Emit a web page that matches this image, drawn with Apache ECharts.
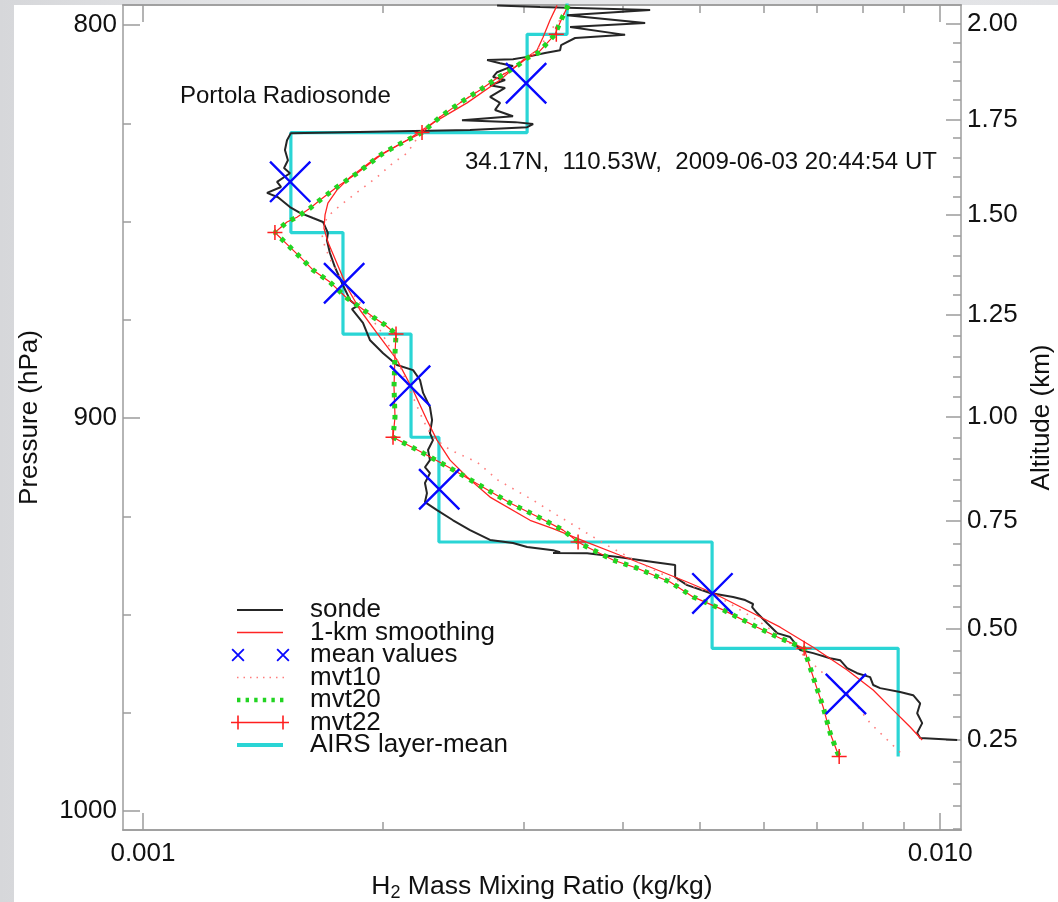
<!DOCTYPE html>
<html>
<head>
<meta charset="utf-8">
<script src="https://cdn.jsdelivr.net/npm/echarts@6.0.0/dist/echarts.min.js"></script>
<style>
html, body { margin: 0; padding: 0; width: 1058px; height: 902px; overflow: hidden;
  background: linear-gradient(90deg, #d6d7da, #e8e9eb 30%, #e2e3e6); }
#panel { position: absolute; left: 14px; top: 5px; width: 1044px; height: 897px; background: #fff; }
#chart { position: absolute; left: 0; top: 0; width: 1058px; height: 902px; }
</style>
</head>
<body>
<div id="panel"></div>
<div id="chart"></div>
<script>
var FONT = 'Liberation Sans, Arial, Helvetica, sans-serif';
var AXIS_GRAY = '#9c9c9c';

// radiosonde profile (pressure hPa, mixing ratio kg/kg)
var sondeHpa = [795.0, 795.4, 796.2, 797.5, 799.5, 800.5, 802.5, 803.3, 805.1, 806.4, 807.1, 808.1, 808.7, 808.9,
  809.7, 810.4, 812.0, 813.2, 814.0, 815.3, 816.0, 818.3, 819.8, 821.6, 823.2, 824.2, 824.7, 825.2, 826.0, 826.7,
  827.0, 827.5, 829.3, 831.8, 834.4, 836.4, 837.7, 839.9, 841.2, 842.7, 843.8, 846.3, 847.8, 849.1, 850.1, 852.9,
  854.7, 858.0, 861.6, 866.2, 870.0, 871.5, 872.3, 875.8, 880.2, 883.5, 886.5, 887.8, 890.3, 893.6, 897.2, 900.5,
  903.8, 905.6, 908.1, 910.7, 912.5, 914.0, 916.5, 919.1, 921.4, 923.4, 926.0, 928.5, 931.0, 931.8, 932.8, 933.6,
  934.1, 934.3, 934.4, 935.4, 936.6, 937.4, 940.5, 942.5, 944.5, 945.5, 946.3, 947.3, 948.1, 949.6, 952.2, 954.7,
  955.7, 957.3, 959.0, 959.8, 961.1, 961.6, 963.6, 964.9, 965.9, 967.9, 968.7, 969.7, 970.5, 972.6, 975.1, 977.6,
  980.1, 981.4, 981.9];
var sondeMr = [2.781e-3, 3.149e-3, 4.327e-3, 3.404e-3, 4.265e-3, 3.434e-3, 4.025e-3, 3.484e-3, 3.346e-3, 3.336e-3,
  3.194e-3, 3.033e-3, 2.912e-3, 2.702e-3, 2.805e-3, 2.912e-3, 2.781e-3, 2.749e-3, 2.846e-3, 2.725e-3, 2.846e-3,
  2.725e-3, 2.805e-3, 2.765e-3, 2.912e-3, 2.513e-3, 2.929e-3, 3.086e-3, 3.033e-3, 2.572e-3, 2.101e-3, 1.533e-3,
  1.516e-3, 1.507e-3, 1.520e-3, 1.503e-3, 1.529e-3, 1.473e-3, 1.490e-3, 1.431e-3, 1.477e-3, 1.529e-3, 1.574e-3,
  1.634e-3, 1.682e-3, 1.706e-3, 1.701e-3, 1.716e-3, 1.741e-3, 1.782e-3, 1.819e-3, 1.856e-3, 1.829e-3, 1.888e-3,
  1.927e-3, 2.001e-3, 2.083e-3, 2.182e-3, 2.226e-3, 2.246e-3, 2.291e-3, 2.305e-3, 2.291e-3, 2.311e-3, 2.278e-3,
  2.291e-3, 2.258e-3, 2.291e-3, 2.258e-3, 2.271e-3, 2.258e-3, 2.338e-3, 2.449e-3, 2.572e-3, 2.725e-3, 2.912e-3,
  3.033e-3, 3.269e-3, 3.336e-3, 3.269e-3, 3.607e-3, 3.967e-3, 4.364e-3, 4.651e-3, 4.651e-3, 4.815e-3, 5.145e-3,
  5.499e-3, 5.693e-3, 5.826e-3, 5.809e-3, 5.894e-3, 6.067e-3, 6.244e-3, 6.484e-3, 6.578e-3, 6.673e-3, 6.929e-3,
  7.277e-3, 7.491e-3, 7.644e-3, 7.868e-3, 8.169e-3, 8.240e-3, 8.408e-3, 8.908e-3, 9.250e-3, 9.438e-3, 9.357e-3,
  9.494e-3, 9.357e-3, 9.438e-3, 10.503e-3];

// 1-km smoothing
var smoothHpa = [795.0, 798.7, 803.1, 806.4, 808.9, 814.0, 819.8, 824.9, 829.3, 833.6, 838.7, 842.0, 845.3, 848.3,
  851.7, 855.2, 860.6, 866.7, 872.5, 878.4, 885.2, 892.9, 900.5, 905.6, 910.7, 915.0, 920.1, 926.0, 928.1, 931.6,
  934.9, 938.2, 941.7, 944.5, 948.9, 953.2, 958.3, 964.1, 969.2, 974.3, 978.6, 981.9];
var smoothMr = [3.307e-3, 3.241e-3, 3.176e-3, 3.121e-3, 2.998e-3, 2.805e-3, 2.550e-3, 2.311e-3, 2.144e-3, 1.966e-3,
  1.819e-3, 1.751e-3, 1.706e-3, 1.692e-3, 1.687e-3, 1.706e-3, 1.751e-3, 1.803e-3, 1.872e-3, 1.966e-3, 2.083e-3,
  2.182e-3, 2.271e-3, 2.338e-3, 2.428e-3, 2.550e-3, 2.725e-3, 3.059e-3, 3.269e-3, 3.607e-3, 3.967e-3, 4.364e-3,
  4.815e-3, 5.190e-3, 5.726e-3, 6.299e-3, 6.929e-3, 7.644e-3, 8.240e-3, 8.731e-3, 9.170e-3, 9.494e-3];

// mean values in each AIRS layer (blue crosses)
var meanHpa = [814.8, 839.9, 865.7, 891.8, 918.1, 944.6, 970.2];
var meanMr = [3.024e-3, 1.530e-3, 1.788e-3, 2.163e-3, 2.353e-3, 5.180e-3, 7.616e-3];

// mvt10
var mvt10Hpa = [795.0, 798.2, 800.8, 805.6, 808.4, 813.5, 819.8, 823.4, 827.0, 832.6, 835.1, 838.7, 842.0, 844.5,
  846.6, 848.9, 853.4, 856.5, 860.6, 865.6, 870.7, 877.6, 885.2, 892.9, 900.5, 904.8, 908.1, 911.2, 915.8, 920.9,
  924.7, 929.3, 932.8, 936.9, 940.7, 944.5, 951.4, 957.3, 964.9, 970.0, 977.6, 985.8];
var mvt10Mr = [3.414e-3, 3.355e-3, 3.260e-3, 3.149e-3, 3.033e-3, 2.781e-3, 2.499e-3, 2.358e-3, 2.239e-3, 2.144e-3,
  2.059e-3, 1.966e-3, 1.872e-3, 1.803e-3, 1.751e-3, 1.701e-3, 1.677e-3, 1.692e-3, 1.726e-3, 1.787e-3, 1.872e-3,
  1.983e-3, 2.083e-3, 2.163e-3, 2.246e-3, 2.305e-3, 2.428e-3, 2.625e-3, 2.789e-3, 3.086e-3, 3.307e-3, 3.607e-3,
  3.854e-3, 4.203e-3, 4.584e-3, 5.175e-3, 5.894e-3, 6.484e-3, 7.132e-3, 7.644e-3, 8.169e-3, 8.986e-3];

// mvt22 (mvt20 lies on top of it, same trace)
var mvt22Hpa = [795.0, 798.2, 800.5, 802.37, 804.6, 807.1, 808.4, 810.2, 812.0, 813.5, 816.5, 819.8, 823.4, 827.37,
  829.8, 832.6, 837.7, 841.2, 844.5, 846.6, 848.9, 850.1, 852.79, 856.5, 859.0, 862.3, 865.4, 869.5, 871.8, 874.3,
  876.3, 878.62, 883.5, 892.1, 899.7, 904.87, 908.9, 912.7, 917.6, 921.6, 925.4, 928.5, 931.53, 932.8, 936.1, 938.2,
  941.7, 945.5, 948.8, 953.2, 956.0, 958.59, 961.1, 967.4, 973.5, 980.1, 984.9, 986.07];
var mvt22Mr = [3.414e-3, 3.355e-3, 3.317e-3, 3.288e-3, 3.213e-3, 3.131e-3, 3.033e-3, 2.955e-3, 2.862e-3, 2.781e-3,
  2.648e-3, 2.499e-3, 2.358e-3, 2.239e-3, 2.120e-3, 2.001e-3, 1.856e-3, 1.751e-3, 1.668e-3, 1.620e-3, 1.560e-3,
  1.516e-3, 1.464e-3, 1.529e-3, 1.574e-3, 1.634e-3, 1.716e-3, 1.803e-3, 1.872e-3, 1.944e-3, 2.012e-3, 2.077e-3,
  2.071e-3, 2.065e-3, 2.071e-3, 2.059e-3, 2.246e-3, 2.428e-3, 2.671e-3, 2.887e-3, 3.149e-3, 3.365e-3, 3.514e-3,
  3.607e-3, 3.888e-3, 4.167e-3, 4.584e-3, 4.899e-3, 5.343e-3, 5.894e-3, 6.299e-3, 6.751e-3, 6.809e-3, 6.969e-3,
  7.132e-3, 7.277e-3, 7.426e-3, 7.470e-3];
var mvt20Hpa = mvt22Hpa;
var mvt20Mr = mvt22Mr;
var mvt22NodeHpa = [802.37, 827.37, 852.79, 878.62, 904.87, 931.53, 958.59, 986.07];
var mvt22NodeMr = [3.30e-3, 2.239e-3, 1.464e-3, 2.077e-3, 2.059e-3, 3.514e-3, 6.751e-3, 7.470e-3];

// AIRS layer-mean: layer boundaries and one value per layer
var airsLevels = [777.79, 802.37, 827.37, 852.79, 878.62, 904.87, 931.53, 958.59, 986.07];
var airsMr = [3.404e-3, 3.033e-3, 1.533e-3, 1.782e-3, 2.169e-3, 2.351e-3, 5.175e-3, 8.857e-3];

// axis ticks
var pressLabels = [800, 900, 1000];
var pressMinor = [825, 850, 875, 925, 950, 975];
var mrLabels = [0.001, 0.01];
var mrMinor = [0.002, 0.003, 0.004, 0.005, 0.006, 0.007, 0.008, 0.009];
var altMajorKm = [2.00, 1.75, 1.50, 1.25, 1.00, 0.75, 0.50, 0.25];
var altMajorHpa = [799.6, 824.0, 848.2, 873.8, 899.7, 926.1, 953.5, 981.8];
var altMinorHpa = [804.5, 809.3, 814.2, 819.1, 828.7, 833.7, 838.6, 843.7, 853.7, 858.8, 863.9, 868.7,
  879.1, 884.4, 889.5, 894.6, 905.0, 910.4, 915.8, 921.1, 931.9, 937.2, 942.6, 948.0,
  959.3, 964.8, 970.3, 976.0, 987.5, 993.0, 998.7, 1004.6];

var P_MIN = 794.9, P_MAX = 1004.8;
var MR_MIN = 0.000944, MR_MAX = 0.01062;

var C_SONDE = '#262626', C_SMOOTH = '#ff2424', C_MEAN = '#0808ff', C_MVT10 = '#ff7d7d',
    C_MVT20 = '#22d422', C_MVT22 = '#ff1e1e', C_AIRS = '#2ad5d5';

function pairs(mr, hpa) {
    var out = [];
    for (var i = 0; i < mr.length; i++) {
        out.push([mr[i], hpa[i]]);
    }
    return out;
}

function airsSteps() {
    var out = [];
    for (var i = 0; i < airsMr.length; i++) {
        out.push([airsMr[i], airsLevels[i]]);
        out.push([airsMr[i], airsLevels[i + 1]]);
    }
    return out;
}

function mrAxis(position, ticks, tickLen, withLabels) {
    var ax = {
        type: 'log', logBase: 10, position: position, min: MR_MIN, max: MR_MAX,
        axisLine: { show: withLabels !== null, lineStyle: { color: AXIS_GRAY, width: 1.5 } },
        axisTick: { inside: true, length: tickLen, customValues: ticks, lineStyle: { color: AXIS_GRAY, width: 1.5 } },
        axisLabel: { show: false },
        splitLine: { show: false }
    };
    if (withLabels) {
        ax.axisLabel = {
            show: true, customValues: mrLabels, margin: 11, fontSize: 26, color: '#111', fontFamily: FONT,
            formatter: function (v) { return v.toFixed(3); }
        };
    }
    return ax;
}

function pressAxis(position, ticks, tickLen, showLine) {
    return {
        type: 'value', position: position, min: P_MIN, max: P_MAX, inverse: true,
        axisLine: { show: showLine, onZero: false, lineStyle: { color: AXIS_GRAY, width: 1.5 } },
        axisTick: { inside: true, length: tickLen, customValues: ticks, lineStyle: { color: AXIS_GRAY, width: 1.5 } },
        axisLabel: { show: false },
        splitLine: { show: false }
    };
}

var xBottom = mrAxis('bottom', mrLabels, 17, true);
xBottom.name = 'H{sub|2} Mass Mixing Ratio (kg/kg)';
xBottom.nameLocation = 'middle';
xBottom.nameGap = 34;
xBottom.nameTextStyle = {
    fontSize: 26.5, color: '#111', fontFamily: FONT, lineHeight: 30,
    rich: { sub: { fontSize: 18, lineHeight: 15, verticalAlign: 'bottom', color: '#111', fontFamily: FONT } }
};

var yLeft = pressAxis('left', pressLabels, 17, true);
yLeft.axisLabel = {
    show: true, customValues: pressLabels, margin: 6, fontSize: 26, color: '#111', fontFamily: FONT,
    formatter: function (v) { return String(v); }
};
yLeft.name = 'Pressure (hPa)';
yLeft.nameLocation = 'middle';
yLeft.nameRotate = 90;
yLeft.nameGap = 80;
yLeft.nameTextStyle = { fontSize: 26, color: '#111', fontFamily: FONT };

var yRight = pressAxis('right', altMajorHpa, 15, true);
yRight.axisLabel = {
    show: true, customValues: altMajorHpa, margin: 6, fontSize: 26, color: '#111', fontFamily: FONT,
    formatter: function (v) {
        for (var i = 0; i < altMajorHpa.length; i++) {
            if (Math.abs(altMajorHpa[i] - v) < 0.01) return altMajorKm[i].toFixed(2);
        }
        return '';
    }
};
yRight.name = 'Altitude (km)';
yRight.nameLocation = 'middle';
yRight.nameRotate = 90;
yRight.nameGap = 59;
yRight.nameTextStyle = { fontSize: 26, color: '#111', fontFamily: FONT };

// legend icons drawn in a 62x14 box (the leading moves pin the box size)
var BOX = 'path://M0,0M62,14';
var icons = {
    sonde: BOX + 'M9,5.9H55V8.1H9Z',
    smooth: BOX + 'M9,6.3H55V7.7H9Z',
    mean: BOX + 'M3.5,1.8L4.8,0.5L16.5,12.2L15.2,13.5ZM15.2,0.5L16.5,1.8L4.8,13.5L3.5,12.2Z' +
        'M48.5,1.8L49.8,0.5L61.5,12.2L60.2,13.5ZM60.2,0.5L61.5,1.8L49.8,13.5L48.5,12.2Z',
    mvt10: BOX + 'M9,6.25h1.5v1.5h-1.5ZM15.5,6.25h1.5v1.5h-1.5ZM22,6.25h1.5v1.5h-1.5ZM28.5,6.25h1.5v1.5h-1.5Z' +
        'M35,6.25h1.5v1.5h-1.5ZM41.5,6.25h1.5v1.5h-1.5ZM48,6.25h1.5v1.5h-1.5ZM54.5,6.25h1.5v1.5h-1.5Z',
    mvt20: BOX + 'M9,4.8h3.4v4.4h-3.4ZM17.6,4.8h3.4v4.4h-3.4ZM26.2,4.8h3.4v4.4h-3.4ZM34.8,4.8h3.4v4.4h-3.4Z' +
        'M43.4,4.8h3.4v4.4h-3.4ZM52,4.8h3.4v4.4h-3.4Z',
    mvt22: BOX + 'M3,6.2H61V7.8H3ZM9.2,0H10.8V14H9.2ZM54.2,0H55.8V14H54.2Z',
    airs: BOX + 'M9,5.1H55V8.9H9Z'
};

var CROSS = 'path://M0,1.6L1.6,0L40,38.4L38.4,40ZM38.4,0L40,1.6L1.6,40L0,38.4Z';
var PLUS = 'path://M7.2,0H8.8V16H7.2ZM0,7.2H16V8.8H0Z';

var chart = echarts.init(document.getElementById('chart'), null, { renderer: 'canvas' });

var option = {
    animation: false,
    backgroundColor: 'transparent',
    textStyle: { fontFamily: FONT },
    title: [
        { text: 'Portola Radiosonde', left: 180, top: 84, padding: 0,
          textStyle: { fontSize: 24, fontWeight: 'normal', color: '#111', fontFamily: FONT } },
        { text: '34.17N,  110.53W,  2009-06-03 20:44:54 UT', left: 465, top: 150, padding: 0,
          textStyle: { fontSize: 24, fontWeight: 'normal', color: '#111', fontFamily: FONT } }
    ],
    legend: {
        orient: 'vertical', left: 228, top: 597, padding: 0,
        itemWidth: 62, itemHeight: 14, itemGap: -3.5, selectedMode: false, symbolKeepAspect: true,
        itemStyle: { borderWidth: 0 },
        textStyle: { fontSize: 26, color: '#111', fontFamily: FONT, padding: [0, 0, 0, 15] },
        data: [
            { name: 'sonde', icon: icons.sonde, itemStyle: { color: C_SONDE, borderWidth: 0 } },
            { name: '1-km smoothing', icon: icons.smooth, itemStyle: { color: C_SMOOTH, borderWidth: 0 } },
            { name: 'mean values', icon: icons.mean, itemStyle: { color: C_MEAN, borderWidth: 0 } },
            { name: 'mvt10', icon: icons.mvt10, itemStyle: { color: C_MVT10, borderWidth: 0 } },
            { name: 'mvt20', icon: icons.mvt20, itemStyle: { color: C_MVT20, borderWidth: 0 } },
            { name: 'mvt22', icon: icons.mvt22, itemStyle: { color: C_MVT22, borderWidth: 0 } },
            { name: 'AIRS layer-mean', icon: icons.airs, itemStyle: { color: C_AIRS, borderWidth: 0 } }
        ]
    },
    grid: { left: 123, top: 5, width: 838, height: 825, containLabel: false, outerBoundsMode: 'none' },
    xAxis: [
        xBottom,
        mrAxis('bottom', mrMinor, 8, false),
        mrAxis('top', mrLabels, 17, false),
        mrAxis('top', mrMinor, 8, false)
    ],
    yAxis: [
        yLeft,
        pressAxis('left', pressMinor, 8, false),
        yRight,
        pressAxis('right', altMinorHpa, 8, false)
    ],
    series: [
        { name: 'AIRS layer-mean', type: 'line', data: airsSteps(), symbol: 'none', z: 2,
          lineStyle: { color: C_AIRS, width: 3.2 }, itemStyle: { color: C_AIRS } },
        { name: 'sonde', type: 'line', data: pairs(sondeMr, sondeHpa), symbol: 'none', z: 3,
          lineStyle: { color: C_SONDE, width: 2 }, itemStyle: { color: C_SONDE } },
        { name: '1-km smoothing', type: 'line', data: pairs(smoothMr, smoothHpa), symbol: 'none', z: 4,
          lineStyle: { color: C_SMOOTH, width: 1.3 }, itemStyle: { color: C_SMOOTH } },
        { name: 'mvt10', type: 'line', data: pairs(mvt10Mr, mvt10Hpa), symbol: 'none', z: 4,
          lineStyle: { color: C_MVT10, width: 1.6, type: [1.6, 7] }, itemStyle: { color: C_MVT10 } },
        { name: 'mvt22', type: 'line', data: pairs(mvt22Mr, mvt22Hpa), symbol: 'none', z: 5,
          lineStyle: { color: C_MVT22, width: 1.2 }, itemStyle: { color: C_MVT22 } },
        { name: 'mvt20', type: 'line', data: pairs(mvt20Mr, mvt20Hpa), symbol: 'none', z: 6,
          lineStyle: { color: C_MVT20, width: 5, type: [4.5, 6.5] }, itemStyle: { color: C_MVT20 } },
        { name: 'mvt22 levels', type: 'scatter', data: pairs(mvt22NodeMr, mvt22NodeHpa), z: 7,
          symbol: PLUS, symbolSize: 15, itemStyle: { color: C_MVT22, opacity: 1 } },
        { name: 'mean values', type: 'scatter', data: pairs(meanMr, meanHpa), z: 8,
          symbol: CROSS, symbolSize: 42, itemStyle: { color: C_MEAN, opacity: 1 } }
    ]
};

chart.setOption(option);
</script>
</body>
</html>
